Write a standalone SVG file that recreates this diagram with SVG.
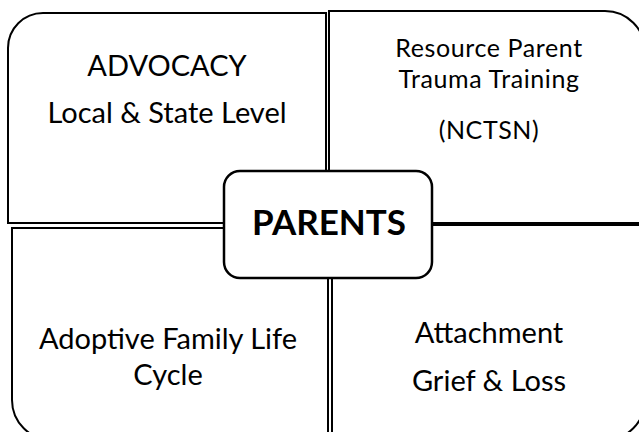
<svg xmlns="http://www.w3.org/2000/svg" width="639" height="432" viewBox="0 0 639 432">
<style>
.box{fill:#fff;stroke:#000;stroke-width:2}
.t{font-family:Lato,"Open Sans","Liberation Sans",sans-serif;fill:#000;text-anchor:middle;font-size:29px}
.s{font-size:25px;letter-spacing:0.6px}
.center{fill:#fff;stroke:#000;stroke-width:2.5}
.bold{font-family:Lato,"Open Sans","Liberation Sans",sans-serif;font-weight:bold;font-size:35px;text-anchor:middle}
</style>
<rect width="639" height="432" fill="#fff"/>
<g id="advocacy">
<path class="box" d="M8,223 L8,48 A35,35 0 0 1 43,13 L326,13 L326,223 Z"/>
<text class="t" x="167" y="76">ADVOCACY</text>
<text class="t" x="167" y="123">Local &amp; State Level</text>
</g>
<g id="training">
<path class="box" d="M329,223 L329,11 L605,11 A40,40 0 0 1 645,51 L645,223 Z"/>
<text class="t s" x="489" y="57">Resource Parent</text>
<text class="t s" x="489" y="88">Trauma Training</text>
<text class="t s" x="489" y="139">(NCTSN)</text>
</g>
<g id="lifecycle">
<path class="box" d="M12,228 L328,228 L328,440 L52,440 A40,40 0 0 1 12,400 Z"/>
<text class="t" x="168" y="349">Adoptive Family Life</text>
<text class="t" x="168" y="385">Cycle</text>
</g>
<g id="attachment">
<path class="box" d="M332,225 L645,225 L645,400 A40,40 0 0 1 605,440 L332,440 Z"/>
<text class="t" x="489" y="343">Attachment</text>
<text class="t" x="489" y="391">Grief &amp; Loss</text>
</g>
<g id="connectors"></g>
<g id="parents">
<rect class="center" x="224" y="171" width="208" height="107" rx="16"/>
<text class="bold" x="329" y="235">PARENTS</text>
</g>
</svg>
